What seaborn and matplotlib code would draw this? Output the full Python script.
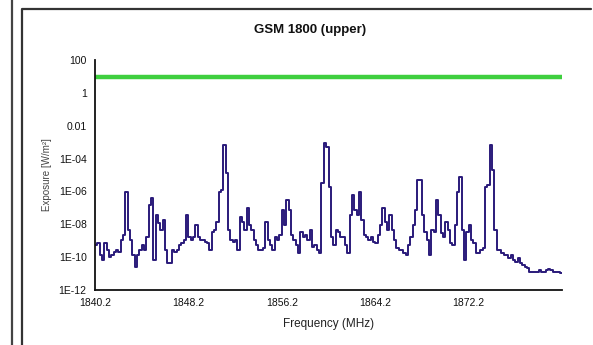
import numpy as np
import pandas as pd
import matplotlib
matplotlib.use("Agg")
import matplotlib.pyplot as plt
from matplotlib.lines import Line2D
import seaborn as sns

# ---------------- data ----------------
title = "GSM 1800 (upper)"
x_label = "Frequency (MHz)"
y_label = "Exposure [W/m²]"

freq_start = 1840.2          # MHz, first channel
channel_step = 0.2           # MHz
freq_end = 1880.2            # MHz, right end of axis

x_tick_values = [1840.2, 1848.2, 1856.2, 1864.2, 1872.2]
x_tick_labels = ["1840.2", "1848.2", "1856.2", "1864.2", "1872.2"]

y_tick_values = [1e2, 1e0, 1e-2, 1e-4, 1e-6, 1e-8, 1e-10, 1e-12]
y_tick_labels = ["100", "1", "0.01", "1E-04", "1E-06", "1E-08", "1E-10", "1E-12"]

reference_level = 9.2        # W/m² (green line)

exposure_log10 = [
    -9.26, -9.14, -9.87, -10.17, -9.14, -9.57, -9.99, -9.87, -9.69, -9.57,
    -9.69, -8.96, -8.65, -6.03, -8.35, -8.96, -9.87, -10.60, -9.87, -9.57,
    -9.26, -9.57, -8.77, -6.83, -6.40, -10.17, -7.43, -7.92, -8.35, -7.74,
    -9.57, -10.36, -10.36, -9.57, -9.69, -9.57, -9.26, -9.14, -8.96, -7.43,
    -8.77, -8.96, -8.77, -8.04, -8.77, -8.96, -8.96, -9.08, -9.14, -9.57,
    -8.47, -8.35, -7.86, -6.03, -5.91, -3.17, -4.88, -8.35, -8.96, -9.08,
    -8.96, -9.57, -7.56, -7.86, -8.35, -7.01, -8.04, -8.35, -8.96, -9.26,
    -9.57, -9.57, -9.44, -7.86, -8.96, -9.26, -9.57, -8.77, -8.96, -8.65,
    -7.13, -8.04, -6.52, -7.13, -8.65, -8.96, -9.26, -9.75, -8.47, -8.77,
    -8.65, -8.96, -8.35, -9.38, -9.26, -9.57, -9.75, -5.49, -3.05, -3.30,
    -5.73, -8.77, -9.26, -8.35, -8.47, -8.77, -8.77, -9.26, -9.75, -7.43,
    -6.22, -7.13, -7.43, -6.03, -7.74, -8.65, -8.77, -8.96, -8.77, -9.08,
    -9.14, -8.65, -8.04, -7.01, -7.86, -8.35, -7.43, -8.35, -8.96, -9.44,
    -9.57, -9.57, -9.75, -9.87, -9.26, -8.77, -8.04, -7.13, -5.30, -5.30,
    -7.43, -8.47, -8.96, -9.87, -8.35, -8.47, -6.52, -7.43, -8.53, -8.77,
    -7.86, -8.35, -9.14, -9.26, -8.04, -6.03, -5.12, -8.35, -10.17, -8.47,
    -8.04, -8.96, -9.14, -9.75, -9.75, -9.57, -9.44, -5.73, -5.61, -3.17,
    -4.70, -8.35, -9.57, -9.57, -9.75, -9.87, -9.87, -10.05, -9.87, -10.17,
    -10.30, -10.05, -10.36, -10.48, -10.60, -10.66, -10.90, -10.90, -10.90, -10.90,
    -10.78, -10.90, -10.90, -10.78, -10.72, -10.78, -10.90, -10.90, -10.90, -10.97,
]

# ---------------- build table ----------------
n = len(exposure_log10)
freqs = np.round(freq_start + channel_step * np.arange(n), 1)
values = np.power(10.0, np.array(exposure_log10))
# extend the last step to the right end of the axis
freqs_plot = np.append(freqs, freq_end)
values_plot = np.append(values, values[-1])
df = pd.DataFrame({"Frequency": freqs_plot, "Exposure": values_plot})
ref_df = pd.DataFrame({"Frequency": [freq_start, freq_end],
                       "Exposure": [reference_level, reference_level]})

# ---------------- plot ----------------
sns.set_theme(style="white")
plt.rcParams["font.family"] = ["Liberation Sans", "DejaVu Sans"]

fig = plt.figure(figsize=(5.93, 3.45), dpi=100)
ax = fig.add_axes([95 / 593, 1 - 290 / 345, (562 - 95) / 593, (290 - 60) / 345])

sns.lineplot(data=ref_df, x="Frequency", y="Exposure", ax=ax,
             color="#3fcf3f", linewidth=3.2, estimator=None)
sns.lineplot(data=df, x="Frequency", y="Exposure", ax=ax,
             color="#2a1a7a", linewidth=1.4, estimator=None,
             drawstyle="steps-post")

ax.set_yscale("log")
ax.set_ylim(1e-12, 1e2)
ax.set_xlim(freq_start, freq_end)
ax.set_yticks(y_tick_values)
ax.set_yticklabels(y_tick_labels)
ax.yaxis.set_minor_locator(matplotlib.ticker.NullLocator())
ax.set_xticks(x_tick_values)
ax.set_xticklabels(x_tick_labels)

ax.tick_params(axis="both", which="major", direction="out", length=3, width=1,
               colors="#111111", labelsize=7.5, pad=3)
for s in ["top", "right"]:
    ax.spines[s].set_visible(False)
for s in ["left", "bottom"]:
    ax.spines[s].set_color("#111111")
    ax.spines[s].set_linewidth(1.3)

ax.set_xlabel(x_label, fontsize=8.5, color="#222222", labelpad=7)
ax.set_ylabel(y_label, fontsize=7, color="#444444", labelpad=5)

fig.text(310 / 593, 1 - 30 / 345, title, ha="center", va="center",
         fontsize=9.5, fontweight="bold", color="#111111")

# chart borders
fig.add_artist(Line2D([12 / 593, 12 / 593], [0, 1], color="#444444", linewidth=1.6))
fig.add_artist(Line2D([22 / 593, 22 / 593, 591 / 593],
                      [0, 1 - 9 / 345, 1 - 9 / 345],
                      color="#333333", linewidth=1.6))

fig.savefig("out.png", dpi=100)
